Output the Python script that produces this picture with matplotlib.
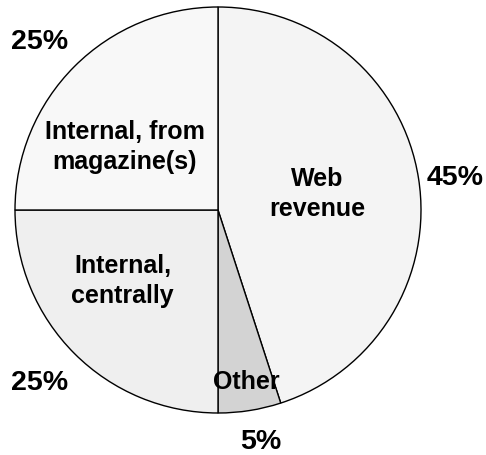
import numpy as np
import matplotlib.pyplot as plt

plt.rcParams['font.family'] = ['Liberation Sans', 'DejaVu Sans']

# slices, clockwise from 12 o'clock
labels = ["Web\nrevenue", "Other", "Internal,\ncentrally", "Internal, from\nmagazine(s)"]
shares = [45, 5, 25, 25]
pct_labels = ["45%", "5%", "25%", "25%"]
colors = ["#f4f4f4", "#d3d3d3", "#efefef", "#f8f8f8"]

# text placement (data units, pie radius = 1)
label_pos = [(0.49, 0.08), (0.14, -0.845), (-0.47, -0.35), (-0.46, 0.31)]
pct_pos = [(1.17, 0.16), (0.21, -1.145), (-0.88, -0.85), (-0.88, 0.83)]

W, H = 486, 455
cx, cy, r = 218, 210, 203

fig = plt.figure(figsize=(W / 100, H / 100), dpi=100)
ax = fig.add_axes([0, 0, 1, 1])
ax.pie(shares, colors=colors, startangle=90, counterclock=False,
       wedgeprops=dict(edgecolor="black", linewidth=1.0))
ax.set_xlim(-cx / r, (W - cx) / r)
ax.set_ylim((cy - H) / r, cy / r)
ax.set_aspect("equal")
ax.axis("off")

for lab, (x, y) in zip(labels, label_pos):
    ax.text(x, y, lab, ha="center", va="center", fontsize=18,
            fontweight="bold", linespacing=1.3)
for lab, (x, y) in zip(pct_labels, pct_pos):
    ax.text(x, y, lab, ha="center", va="center", fontsize=20.5,
            fontweight="bold")

fig.savefig("out.png", dpi=100)
